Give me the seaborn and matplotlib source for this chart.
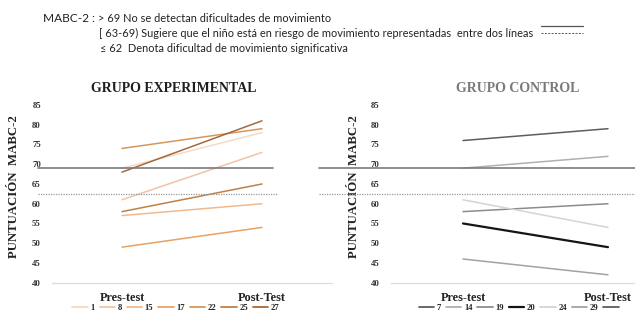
import numpy as np
import pandas as pd
import seaborn as sns
import matplotlib
matplotlib.use('Agg')
import matplotlib.pyplot as plt
from matplotlib.lines import Line2D

# data
tiempos = ['Pres-test', 'Post-Test']

exp_ids = ['1', '8', '15', '17', '22', '25', '27']
exp_pre = [69, 61, 57, 49, 74, 58, 68]
exp_post = [78, 73, 60, 54, 79, 65, 81]
exp_colors = ['#f6d9c8', '#f2c3a6', '#f2b98c', '#e9a264', '#d6975c', '#bf8048', '#a4693c']

ctrl_ids = ['7', '14', '19', '20', '24', '29']
ctrl_pre = [76, 69, 58, 55, 61, 46]
ctrl_post = [79, 72, 60, 49, 54, 42]
ctrl_colors = ['#5e5e5e', '#b0b0b0', '#8c8c8c', '#151515', '#d4d4d4', '#a2a2a2']

corte_sup = 69      # > 69 sin dificultad
corte_inf = 62.5    # limite zona de riesgo


def long_df(ids, pre, post):
    rows = []
    for i, a, b in zip(ids, pre, post):
        rows.append((i, tiempos[0], a))
        rows.append((i, tiempos[1], b))
    return pd.DataFrame(rows, columns=['id', 'tiempo', 'puntuacion'])


sns.set_style('white')
plt.rcParams['font.family'] = ['Liberation Serif', 'DejaVu Serif']

W, H = 635, 317
fig = plt.figure(figsize=(W / 100, H / 100), dpi=100)

ax1 = fig.add_axes([52 / W, 34.3 / H, 280 / W, 177.7 / H])
ax2 = fig.add_axes([390.5 / W, 34.3 / H, 290 / W, 177.7 / H])

df_exp = long_df(exp_ids, exp_pre, exp_post)
df_ctrl = long_df(ctrl_ids, ctrl_pre, ctrl_post)

sns.lineplot(data=df_exp, x='tiempo', y='puntuacion', hue='id', hue_order=exp_ids,
             palette=exp_colors, sort=False, lw=1.1, ax=ax1, legend=False)
ctrl_lw = [1.1, 1.1, 1.1, 1.6, 1.1, 1.1]
sns.lineplot(data=df_ctrl, x='tiempo', y='puntuacion', hue='id', hue_order=ctrl_ids,
             palette=ctrl_colors, sort=False, lw=1.1, ax=ax2, legend=False)
for ln, w in zip(ax2.get_lines(), ctrl_lw):
    ln.set_linewidth(w)

for ax in (ax1, ax2):
    ax.set_xlim(-0.5, 1.5)
    ax.set_ylim(40, 85)
    ax.set_yticks(np.arange(40, 86, 5))
    ax.set_xlabel('')
    ax.set_ylabel('PUNTUACIÓN  MABC-2', fontsize=9.2, fontweight='bold', color='#222222')
    ax.tick_params(axis='y', length=0, pad=8, labelsize=6.3, labelcolor='#333333')
    ax.tick_params(axis='x', length=0, pad=7, labelsize=8.8, labelcolor='#222222')
    for lab in ax.get_yticklabels() + ax.get_xticklabels():
        lab.set_fontweight('bold')
    for s in ['top', 'right', 'left']:
        ax.spines[s].set_visible(False)
    ax.spines['bottom'].set_color('#dcdcdc')
    ax.spines['bottom'].set_linewidth(0.9)
    ax.patch.set_alpha(0)

ax1.yaxis.set_label_coords(-0.114, 0.54)
ax2.yaxis.set_label_coords(-0.105, 0.54)

# lineas de corte
ax1.axhline(corte_sup, xmin=-0.05, xmax=0.79, color='#7a7a7a', lw=1.2, clip_on=False)
ax1.axhline(corte_inf, xmin=-0.05, xmax=0.805, color='#9a9a9a', lw=0.9,
            ls=(0, (1, 1)), clip_on=False)
ax2.axhline(corte_sup, xmin=-0.245, xmax=1.0, color='#7a7a7a', lw=1.2, clip_on=False)
ax2.axhline(corte_inf, xmin=-0.245, xmax=1.0, color='#9a9a9a', lw=0.9,
            ls=(0, (1, 1)), clip_on=False)

# titulos
fig.text(174 / W, 1 - 88 / H, 'GRUPO EXPERIMENTAL', ha='center', va='center',
         fontsize=10, fontweight='bold', color='#1f1f1f')
fig.text(518 / W, 1 - 88 / H, 'GRUPO CONTROL', ha='center', va='center',
         fontsize=10, fontweight='bold', color='#7a7a7a')

# leyendas
leg_kw = dict(loc='center', ncol=7, frameon=False, handlelength=1.8, handletextpad=0.3,
              columnspacing=0.55, prop={'size': 6.2, 'weight': 'bold'})
h1 = [Line2D([], [], color=c, lw=1.3) for c in exp_colors]
fig.legend(h1, exp_ids, bbox_to_anchor=(176 / W, 1 - 308 / H), **leg_kw)
h2 = [Line2D([], [], color=c, lw=1.6 if i == '20' else 1.3) for c, i in zip(ctrl_colors, ctrl_ids)]
h2.append(Line2D([], [], color='#5e5e5e', lw=1.3))
fig.legend(h2, ctrl_ids + [''], bbox_to_anchor=(520 / W, 1 - 308 / H), **leg_kw)

# encabezado con los criterios MABC-2
hfont = ['Lato', 'DejaVu Sans']
fig.text(43 / W, 1 - 18 / H, 'MABC-2 :', ha='left', va='center', fontsize=8.6,
         family=hfont, color='#222222')
fig.text(98 / W, 1 - 18 / H, '> 69 No se detectan dificultades de movimiento', ha='left',
         va='center', fontsize=7.9, family=hfont, color='#222222')
fig.text(99 / W, 1 - 33 / H,
         '[ 63-69) Sugiere que el niño está en riesgo de movimiento representadas  entre dos líneas',
         ha='left', va='center', fontsize=7.9, family=hfont, color='#222222')
fig.text(100 / W, 1 - 49 / H, '≤ 62  Denota dificultad de movimiento significativa', ha='left',
         va='center', fontsize=7.9, family=hfont, color='#222222')
fig.add_artist(Line2D([541 / W, 583 / W], [1 - 26 / H, 1 - 26 / H], color='#555555', lw=0.9))
fig.add_artist(Line2D([541 / W, 583 / W], [1 - 33 / H, 1 - 33 / H], color='#555555', lw=0.7,
                      ls=(0, (2, 1.5))))

fig.savefig('out.png', dpi=100)
